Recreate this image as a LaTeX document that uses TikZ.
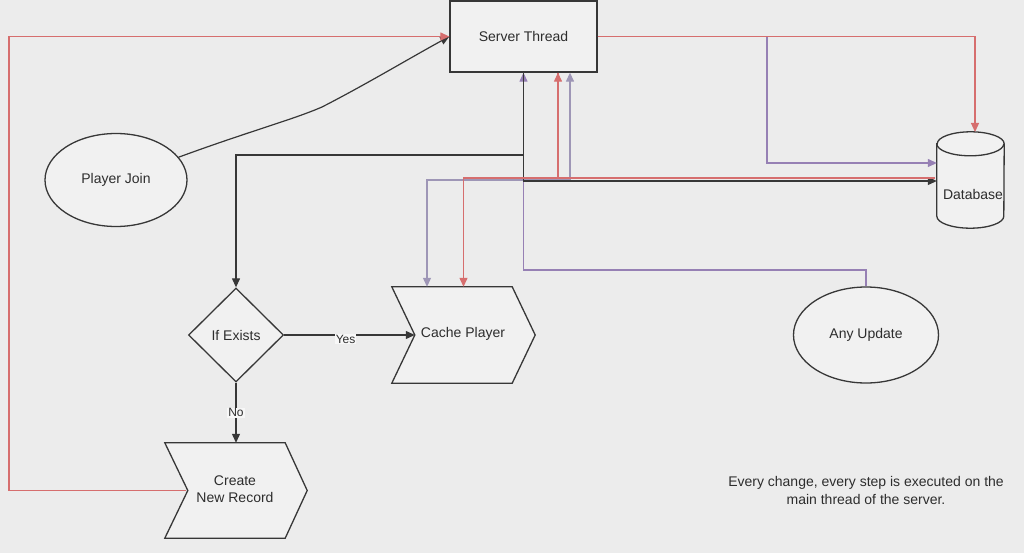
\documentclass[tikz,border=0pt]{standalone}
\usepackage{fontspec}
\setmainfont{Liberation Sans}
\usetikzlibrary{arrows.meta,shapes.geometric}

\definecolor{bgc}{RGB}{236,236,236}
\definecolor{ink}{RGB}{55,55,55}
\definecolor{txtc}{RGB}{45,45,45}
\definecolor{redl}{RGB}{214,110,110}
\definecolor{purl}{RGB}{150,128,180}
\definecolor{gryl}{RGB}{158,150,182}

\tikzset{
  shp/.style={draw=ink, line width=1.3pt, fill=bgc!75!white, text=txtc,
    font=\fontsize{14}{17}\selectfont, inner sep=0pt},
  ghost/.style={inner sep=0pt, text=txtc, font=\fontsize{14}{17}\selectfont},
  tip/.style={-{Triangle[length=9pt,width=8pt]}},
  dtip/.style={{Triangle[length=9pt,width=8pt]}-{Triangle[length=9pt,width=8pt]}},
  blk/.style={draw=ink, line width=1.2pt},
  rdl/.style={draw=redl, line width=1.2pt},
  prl/.style={draw=purl, line width=1.2pt},
  gyl/.style={draw=gryl, line width=1.2pt},
  lbl/.style={fill=bgc!40!white, inner sep=1pt, text=txtc,
    font=\fontsize{12}{14}\selectfont},
}

\begin{document}
\begin{tikzpicture}[x=1pt,y=-1pt]
\useasboundingbox (0,0) rectangle (1024,553);
\fill[bgc] (0,0) rectangle (1024,553);

% ---- nodes ----
\node[shp, rectangle, minimum width=147pt, minimum height=71pt] (st) at (523.5,36.5) {Server Thread};
\node[shp, ellipse, minimum width=142pt, minimum height=93pt] (pj) at (116,180) {Player Join};
\node[shp, ellipse, minimum width=145pt, minimum height=96pt] (au) at (866,335) {Any Update};
\node[shp, diamond, minimum width=95pt, minimum height=94pt] (ie) at (236,335) {If Exists};

% chevrons: frame nodes carry the text, outline drawn around them
\node[ghost, minimum width=143pt, minimum height=96pt] (cp) at (463.5,335) {};
\draw[shp] (cp.north west) -- ([xshift=-23pt]cp.north east) -- (cp.east)
  -- ([xshift=-23pt]cp.south east) -- (cp.south west) -- ([xshift=23pt]cp.west) -- cycle;
\node[ghost] (cpt) at (463,334) {Cache Player};

\node[ghost, minimum width=142pt, minimum height=95pt] (cnr) at (236,490.5) {};
\draw[shp] (cnr.north west) -- ([xshift=-22pt]cnr.north east) -- (cnr.east)
  -- ([xshift=-22pt]cnr.south east) -- (cnr.south west) -- ([xshift=23pt]cnr.west) -- cycle;
\node[ghost, align=center] (cnrt) at (235,489) {Create\\New Record};

% database cylinder
\node[ghost, minimum width=67pt, minimum height=96pt] (db) at (970.5,180) {};
\draw[shp] ([yshift=-12pt]db.north west) -- ([yshift=12pt]db.south west)
  arc[start angle=180, end angle=360, x radius=33.5pt, y radius=12pt]
  -- ([yshift=-12pt]db.north east)
  arc[start angle=0, end angle=180, x radius=33.5pt, y radius=12pt] -- cycle;
\draw[draw=ink, line width=1.3pt] ([yshift=-12pt]db.north west)
  arc[start angle=180, end angle=360, x radius=33.5pt, y radius=12pt];
\node[ghost] (dbt) at (973,194) {Database};

% ---- connectors ----
% Player Join -> Server Thread
\draw[blk, tip] (pj.20) .. controls (250,131) and (292,120) .. (322,107)
  .. controls (365,85) and (410,58) .. (st.west);
% Create New Record -> Server Thread
\draw[rdl, tip] ([xshift=21pt]cnr.west) -- (9,490.5) -- (9,36.5) -- (st.west);

% Cache Player <-> Server Thread (grey)
\draw[gyl, dtip] ([xshift=-36.5pt]cp.north) -- (427,180) -- (570,180) -- ([xshift=46.5pt]st.south);
% Server Thread -> If Exists
\draw[blk, tip] (st.south) -- (523.5,155) -- (ie.north |- 0,155) -- (ie.north);
% Any Update -> Server Thread
\draw[prl, tip] (au.north) -- (866,270) -- (523.5,270) -- (st.south);
% Server Thread -> Database
\draw[blk, tip] (st.south) -- (523.5,181) -- (db.west |- 0,181);
% Server Thread <-> Cache Player (red), and on to Database
\draw[rdl] ([xshift=34.5pt]st.south) -- (558,178) -- (935,178);
\draw[rdl, dtip] (cp.north) -- (463.5,178) -- (558,178) -- ([xshift=34.5pt]st.south);
% Server Thread -> Database (purple, via the side)
\draw[prl, tip] (st.east) -- (767,36.5) -- (767,163) -- (db.west |- 0,163);
% Server Thread -> Database (red, onto the lid)
\draw[rdl, tip] (st.east) -- (975,36.5) -- (975,132);

% decision labels
\draw[blk, tip] (ie.east) -- node[lbl, pos=0.47, yshift=-4pt] {Yes} ([xshift=23pt]cp.west);
\draw[blk, tip] (ie.south) -- node[lbl, pos=0.5] {No} (cnr.north);

% note
\node[ghost, align=center, font=\fontsize{14}{18}\selectfont] (note) at (866,490)
  {Every change, every step is executed on the\\main thread of the server.};
\end{tikzpicture}
\end{document}
